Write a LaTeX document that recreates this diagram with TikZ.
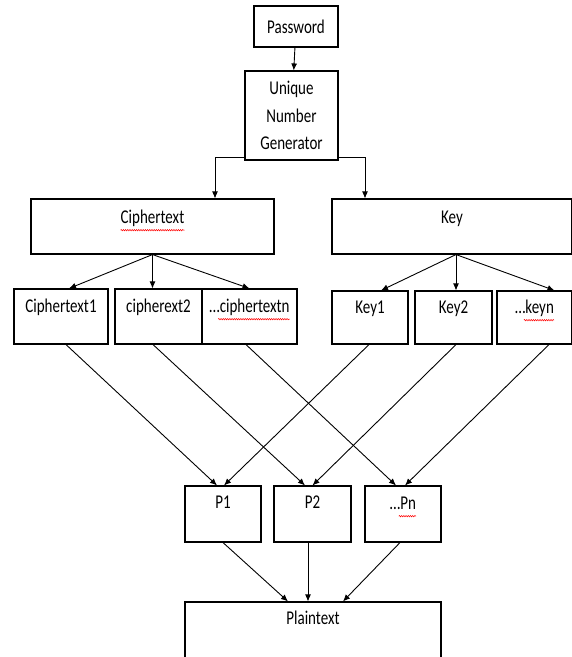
\documentclass[tikz,border=0pt]{standalone}
\usepackage{fontspec}
\setmainfont{Carlito}[FakeStretch=0.77]
\usepackage{tikz}
\usetikzlibrary{arrows.meta, positioning, calc, decorations.pathmorphing}

\begin{document}
\begin{tikzpicture}[
    x=1pt, y=-1pt,
    font=\fontsize{19.5}{27.5}\selectfont,
    box/.style={draw, line width=1.1pt, inner sep=0pt},
    lbl/.style={inner sep=0pt, text height=13pt, text depth=4pt},
    flow/.style={-{Latex[length=7pt, width=6pt]}, line width=0.9pt},
    spell/.style={red, line width=0.5pt, decorate, decoration={snake, segment length=2.2pt, amplitude=0.7pt}}
]
    \useasboundingbox (0,0) rectangle (572,657);

    % Top
    \node[box, minimum width=84pt, minimum height=41pt] (pass) at (296,26.5) {Password};
    \node[box, minimum width=93pt, minimum height=89pt, align=center] (ung) at (291.5,115.5) {Unique\\Number\\Generator};

    % Split
    \node[box, minimum width=243pt, minimum height=55pt] (ct) at (152.5,226.5) {};
    \node[box, minimum width=240pt, minimum height=55pt] (key) at (452,226.5) {};
    \node[lbl] (ctl) at ([yshift=-21pt]ct.north) {Ciphertext};
    \node[lbl] (keyl) at ([yshift=-21pt]key.north) {Key};

    % Ciphertext parts
    \node[box, minimum width=94pt, minimum height=55pt] (ct1) at (61,316.5) {};
    \node[box, minimum width=87pt, minimum height=55pt] (ct2) at (158.5,316.5) {};
    \node[box, minimum width=95pt, minimum height=55pt] (ctn) at (249.5,316.5) {};
    \node[lbl] (ct1l) at ([yshift=-20pt]ct1.north) {Ciphertext1};
    \node[lbl] (ct2l) at ([yshift=-20pt]ct2.north) {cipherext2};
    \node[lbl] (ctnl) at ([yshift=-20pt]ctn.north) {…ciphertextn};

    % Key parts
    \node[box, minimum width=76pt, minimum height=53pt] (key1) at (370,317.5) {};
    \node[box, minimum width=77pt, minimum height=53pt] (key2) at (453.5,317.5) {};
    \node[box, minimum width=75pt, minimum height=53pt] (keyn) at (534.5,317.5) {};
    \node[lbl] (key1l) at ([yshift=-19pt]key1.north) {Key1};
    \node[lbl] (key2l) at ([yshift=-19pt]key2.north) {Key2};
    \node[lbl] (keynl) at ([yshift=-19pt]keyn.north) {…keyn};

    % Partial plaintexts
    \node[box, minimum width=76pt, minimum height=56pt] (p1) at (223,514) {};
    \node[box, minimum width=77pt, minimum height=56pt] (p2) at (312.5,514) {};
    \node[box, minimum width=76pt, minimum height=56pt] (pn) at (403,514) {};
    \node[lbl] (p1l) at ([yshift=-19pt]p1.north) {P1};
    \node[lbl] (p2l) at ([yshift=-19pt]p2.north) {P2};
    \node[lbl] (pnl) at ([yshift=-20pt]pn.north) {…Pn};

    % Result
    \node[box, minimum width=256pt, minimum height=58pt] (plain) at (313,631) {};
    \node[lbl] (plainl) at ([yshift=-19pt]plain.north) {Plaintext};

    % Spelling marks
    \draw[spell] ([yshift=-2pt]ctl.south west) -- ([yshift=-2pt]ctl.south east);
    \draw[spell] ([xshift=9pt, yshift=-2pt]ctnl.south west) -- ([yshift=-2pt]ctnl.south east);
    \draw[spell] ([xshift=9pt, yshift=-2pt]keynl.south west) -- ([yshift=-2pt]keynl.south east);
    \draw[spell] ([xshift=9pt, yshift=-2pt]pnl.south west) -- ([yshift=-2pt]pnl.south east);

    % Arrows
    \draw[flow] (pass) -- (ung);
    \draw[flow] ([yshift=3pt]ung.south west) -| ([xshift=62.5pt]ct.north);
    \draw[flow] ([yshift=3pt]ung.south east) -| ([xshift=-87pt]key.north);

    \draw[flow] (ct.south) -- ([xshift=8pt]ct1.north);
    \draw[flow] (ct.south) -- (ct.south |- ct2.north);
    \draw[flow] (ct.south) -- (ctn.north);
    \draw[flow] ([xshift=4pt]key.south) -- ([xshift=11pt]key1.north);
    \draw[flow] ([xshift=4pt]key.south) -- ([xshift=2.5pt]key2.north);
    \draw[flow] ([xshift=4pt]key.south) -- ([xshift=20pt]keyn.north);

    \draw[flow] ([xshift=5pt]ct1.south) -- ([xshift=-6pt]p1.north);
    \draw[flow] ([xshift=-5.5pt]ct2.south) -- ([xshift=-7.5pt]p2.north);
    \draw[flow] ([xshift=-3.5pt]ctn.south) -- ([xshift=-7pt]pn.north);
    \draw[flow] ([xshift=-1pt]key1.south) -- ([xshift=1pt]p1.north);
    \draw[flow] ([xshift=2.5pt]key2.south) -- (p2.north);
    \draw[flow] ([xshift=14.5pt]keyn.south) -- ([xshift=2pt]pn.north);

    \draw[flow] (p1.south) -- ([xshift=-25pt]plain.north);
    \draw[flow] ([xshift=-4.5pt]p2.south) -- ([xshift=-5pt]plain.north);
    \draw[flow] ([xshift=-3pt]pn.south) -- ([xshift=30pt]plain.north);
\end{tikzpicture}
\end{document}
